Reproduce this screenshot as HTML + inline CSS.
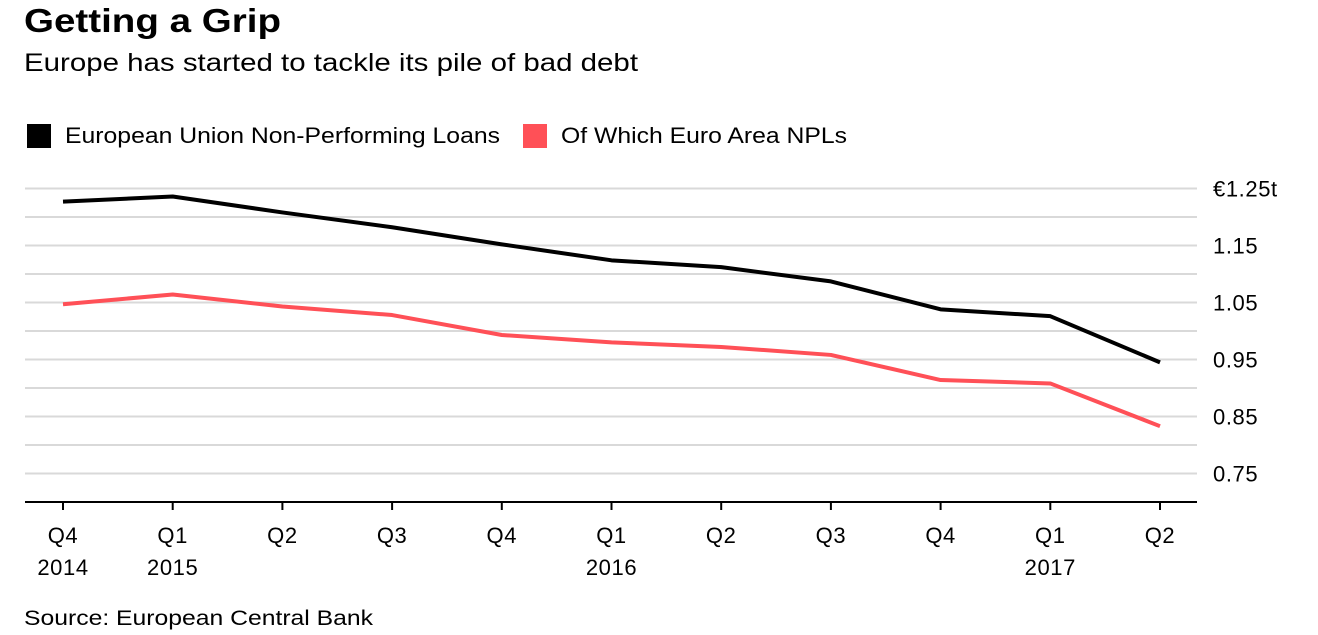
<!DOCTYPE html>
<html><head><meta charset="utf-8"><style>
body{margin:0;background:#fff;font-family:"Liberation Sans",Arial,sans-serif;}
</style></head><body>
<svg width="1318" height="630" xmlns="http://www.w3.org/2000/svg" style="font-family:'Liberation Sans',Arial,sans-serif">
<text x="24" y="32" font-size="33" font-weight="bold" fill="#000" textLength="257" lengthAdjust="spacingAndGlyphs">Getting a Grip</text>
<text x="24" y="71" font-size="25" fill="#000" textLength="614" lengthAdjust="spacingAndGlyphs">Europe has started to tackle its pile of bad debt</text>
<rect x="27" y="124" width="24" height="24" fill="#000"/>
<text x="65" y="143" font-size="22" textLength="435" lengthAdjust="spacingAndGlyphs">European Union Non-Performing Loans</text>
<rect x="523" y="124" width="24" height="24" fill="#ff5057"/>
<text x="561" y="143" font-size="22" textLength="286" lengthAdjust="spacingAndGlyphs">Of Which Euro Area NPLs</text>
<g id="grid"></g><g id="xaxis"></g><g id="lines"></g>
<text x="24" y="625" font-size="21" textLength="349" lengthAdjust="spacingAndGlyphs">Source: European Central Bank</text>
</svg>
<script>
const quarters=["Q4","Q1","Q2","Q3","Q4","Q1","Q2","Q3","Q4","Q1","Q2"];
const years=["2014","2015","","","","2016","","","","2017",""];
const euValues=[1.227,1.236,1.208,1.182,1.152,1.124,1.112,1.087,1.038,1.026,0.945];
const euroValues=[1.047,1.064,1.043,1.028,0.993,0.980,0.972,0.958,0.914,0.908,0.833];
const tickValues=[1.25,1.15,1.05,0.95,0.85,0.75];
const tickLabels=["€1.25t","1.15","1.05","0.95","0.85","0.75"];
const minorValues=[1.20,1.10,1.00,0.90,0.80];
const NS="http://www.w3.org/2000/svg";
const L=25,R=1197;
function y(v){return 502-(v-0.70)/0.1*57;}
function x(i){return 63+i*(1160-63)/(quarters.length-1);}
function mk(t,a,p){const e=document.createElementNS(NS,t);for(const k in a)e.setAttribute(k,a[k]);p.appendChild(e);return e;}
const grid=document.getElementById('grid');
minorValues.forEach(v=>{const l=mk('line',{x1:L,x2:R,y1:y(v),y2:y(v),stroke:'#d9d9d9','stroke-width':2},grid);

});
tickValues.forEach((v,i)=>{const l=mk('line',{x1:L,x2:R,y1:y(v),y2:y(v),stroke:'#d9d9d9','stroke-width':2},grid);


const t=mk('text',{x:1213,y:y(v)+8,'font-size':22,'letter-spacing':0.6},grid);t.textContent=tickLabels[i];

});
const xa=document.getElementById('xaxis');
const ax=mk('line',{x1:L,x2:R,y1:502,y2:502,stroke:'#000','stroke-width':2},xa);


quarters.forEach((q,i)=>{const tk=mk('line',{x1:x(i),x2:x(i),y1:502,y2:510,stroke:'#000','stroke-width':2},xa);


const t=mk('text',{x:x(i),y:543,'font-size':22,'text-anchor':'middle','letter-spacing':0.6},xa);t.textContent=q;


if(years[i]){const t2=mk('text',{x:x(i),y:575,'font-size':22,'text-anchor':'middle','letter-spacing':0.6},xa);t2.textContent=years[i];

}});
const lg=document.getElementById('lines');
function line(vals,col,name){const p=mk('polyline',{points:vals.map((v,i)=>x(i)+','+y(v)).join(' '),fill:'none',stroke:col,'stroke-width':4,'stroke-linejoin':'round'},lg);

}
line(euroValues,'#ff5057','line-euro-area-npls');
line(euValues,'#000','line-eu-npls');
</script>
</body></html>
